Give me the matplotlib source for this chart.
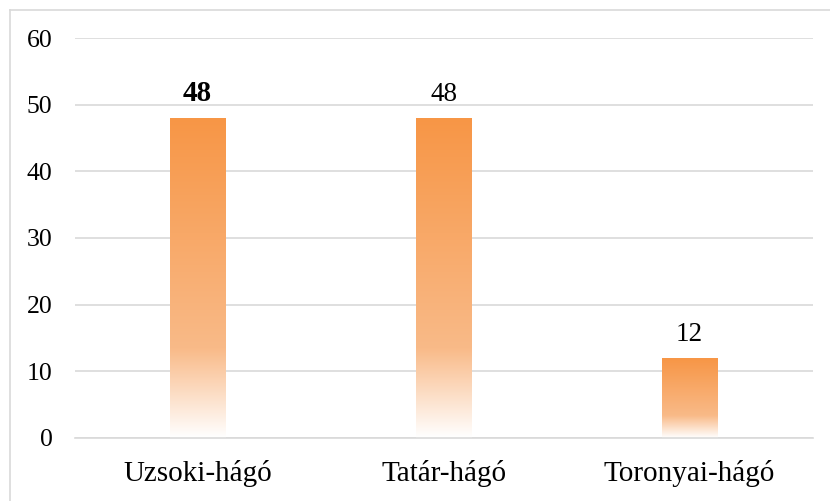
import numpy as np
import matplotlib
matplotlib.use("Agg")
import matplotlib.pyplot as plt
from matplotlib.colors import LinearSegmentedColormap

categories = ["Uzsoki-hágó", "Tatár-hágó", "Toronyai-hágó"]
values = [48, 48, 12]
bold_label = [True, False, False]

plt.rcParams["font.family"] = ["Liberation Serif", "DejaVu Serif"]

fig = plt.figure(figsize=(8.30, 5.01), dpi=100)
ax = fig.add_axes([0.090, 0.126, 0.889, 0.798])

# gradient orange -> white (top -> bottom)
cmap = LinearSegmentedColormap.from_list(
    "og", [(0.0, "#F79646"), (0.72, "#F9BA88"), (1.0, "#FFFFFF")])
grad = np.linspace(0, 1, 256).reshape(-1, 1)

x = np.arange(len(categories))
bars = ax.bar(x, values, width=0.225, color="none", edgecolor="none", zorder=2)
for b in bars:
    x0, w, h = b.get_x(), b.get_width(), b.get_height()
    im = ax.imshow(grad, cmap=cmap, aspect="auto", extent=[x0, x0 + w, 0, h],
                   origin="upper", zorder=2, interpolation="bilinear")
    im.set_clip_path(b)

for xi, v, bl in zip(x, values, bold_label):
    ax.annotate(str(v), (xi, v), xytext=(0, 8), textcoords="offset points",
                ha="center", va="bottom",
                fontsize=21 if bl else 19.5, fontweight="bold" if bl else "normal",
                color="black")

ax.set_xlim(-0.5, 2.5)
ax.set_ylim(0, 60)
ax.set_yticks(range(0, 61, 10))
ax.set_xticks(x)
ax.set_xticklabels(categories, fontsize=21)
ax.tick_params(axis="y", labelsize=18.5, length=0, pad=16)
ax.tick_params(axis="x", length=0, pad=16)
ax.yaxis.grid(True, color="#D9D9D9", lw=1.2, zorder=0)
ax.set_axisbelow(True)
for s in ["top", "right", "left"]:
    ax.spines[s].set_visible(False)
ax.spines["bottom"].set_color("#D9D9D9")
ax.spines["bottom"].set_linewidth(1.2)

# outer chart border (left and top visible)
fig.add_artist(plt.Line2D([10/830, 10/830], [0, 1 - 10/501], color="#D9D9D9", lw=1.2))
fig.add_artist(plt.Line2D([10/830, 1], [1 - 10/501, 1 - 10/501], color="#D9D9D9", lw=1.2))

fig.savefig("out.png", dpi=100)
